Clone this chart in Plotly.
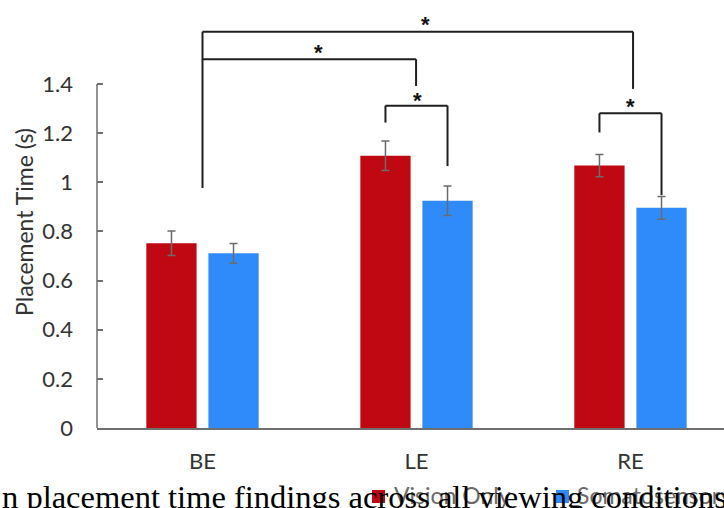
import plotly.graph_objects as go

categories = ["BE", "LE", "RE"]
vision_only = [0.752, 1.108, 1.068]
vision_err = [0.050, 0.060, 0.045]
somato = [0.711, 0.925, 0.896]
somato_err = [0.040, 0.060, 0.046]
series_names = ["Vision Only", "Somatosensory"]
y_ticks = [0, 0.2, 0.4, 0.6, 0.8, 1, 1.2, 1.4]
y_ticktext = ["0", "0.2", "0.4", "0.6", "0.8", "1", "1.2", "1.4"]
caption = "n placement time findings across all viewing conditions"

# significance brackets: x_left, x_right, y_top, y_left_bottom, y_right_bottom, star_x, star_y
brackets = [
    (0.0, 2.012, 1.613, 0.977, 1.380, 1.044, 1.667),
    (0.0, 0.998, 1.501, 1.501, 1.392, 0.544, 1.552),
    (0.855, 1.145, 1.312, 1.243, 1.066, 1.007, 1.358),
    (1.855, 2.145, 1.281, 1.203, 0.948, 1.998, 1.335),
]

RED = "#C00812"
BLUE = "#2F8BFA"
GRAY_TXT = "#333333"
W, H = 724, 508
L, R, T, B = 97, 0, 0, 80
PW, PH = W - L - R, H - T - B

def px_x(px):
    return (px - L) / PW

def px_y(py):
    return (H - B - py) / PH

fig = go.Figure()
fig.add_trace(go.Bar(
    x=categories, y=vision_only, name=series_names[0], marker_color=RED,
    marker_line_width=0,
    error_y=dict(type="data", array=vision_err, color="#6b6b6b", thickness=1.5, width=4),
))
fig.add_trace(go.Bar(
    x=categories, y=somato, name=series_names[1], marker_color=BLUE,
    marker_line_width=0,
    error_y=dict(type="data", array=somato_err, color="#6b6b6b", thickness=1.5, width=4),
))

shapes = []
annotations = []
line_style = dict(color="#1f1f1f", width=2)
for (xl, xr, yt, ylb, yrb, sx, sy) in brackets:
    shapes.append(dict(type="line", xref="x", yref="y", x0=xl, x1=xl, y0=ylb, y1=yt, line=line_style))
    shapes.append(dict(type="line", xref="x", yref="y", x0=xl, x1=xr, y0=yt, y1=yt, line=line_style))
    shapes.append(dict(type="line", xref="x", yref="y", x0=xr, x1=xr, y0=yt, y1=yrb, line=line_style))
    annotations.append(dict(x=sx, y=sy, xref="x", yref="y", text="<b>*</b>", showarrow=False,
                            font=dict(family="Liberation Sans", size=22, color="#111111"),
                            yshift=-6))

# y axis line (ends at 1.4)
shapes.append(dict(type="line", xref="paper", yref="y", x0=0, x1=0, y0=0, y1=y_ticks[-1],
                   line=dict(color="#6f6f6f", width=1.5)))

# legend (manual)
leg = [(372, RED, series_names[0], 392), (556, BLUE, series_names[1], 575)]
for (sx, col, name, tx) in leg:
    shapes.append(dict(type="rect", xref="paper", yref="paper",
                       x0=px_x(sx), x1=px_x(sx + 13), y0=px_y(503), y1=px_y(490),
                       fillcolor=col, line_width=0))
    annotations.append(dict(x=px_x(tx), y=px_y(495), xref="paper", yref="paper", text=name,
                            xanchor="left", yanchor="middle", showarrow=False,
                            font=dict(family="Lato", size=23, color="#6a6a6a")))

# y-axis title
annotations.append(dict(x=px_x(24), y=px_y(222), xref="paper", yref="paper",
                        text="Placement Time (s)", textangle=-90, showarrow=False,
                        xanchor="center", yanchor="middle",
                        font=dict(family="Lato", size=23, color=GRAY_TXT)))

# caption (drawn over the legend)
annotations.append(dict(x=px_x(0), y=px_y(497), xref="paper", yref="paper", text=caption,
                        xanchor="left", yanchor="middle", showarrow=False,
                        font=dict(family="Liberation Serif", size=32.5, color="#000000")))

fig.update_layout(
    width=W, height=H,
    margin=dict(l=L, r=R, t=T, b=B, pad=0),
    paper_bgcolor="white", plot_bgcolor="white",
    barmode="group", bargap=0.42, bargroupgap=0.19,
    showlegend=False,
    shapes=shapes, annotations=annotations,
    xaxis=dict(range=[-0.493, 2.437], showline=True, linecolor="#6f6f6f", linewidth=1.5,
               showgrid=False, zeroline=False, ticks="",
               tickfont=dict(family="Lato", size=22, color=GRAY_TXT), ticklabelstandoff=13),
    yaxis=dict(range=[0, 1.742], showline=False, showgrid=False, zeroline=False,
               tickvals=y_ticks, ticktext=y_ticktext, ticks="inside", ticklen=6,
               tickcolor="#6f6f6f", tickwidth=1.5,
               tickfont=dict(family="Lato", size=22, color=GRAY_TXT), ticklabelstandoff=23),
)

fig.write_html("out.html")
